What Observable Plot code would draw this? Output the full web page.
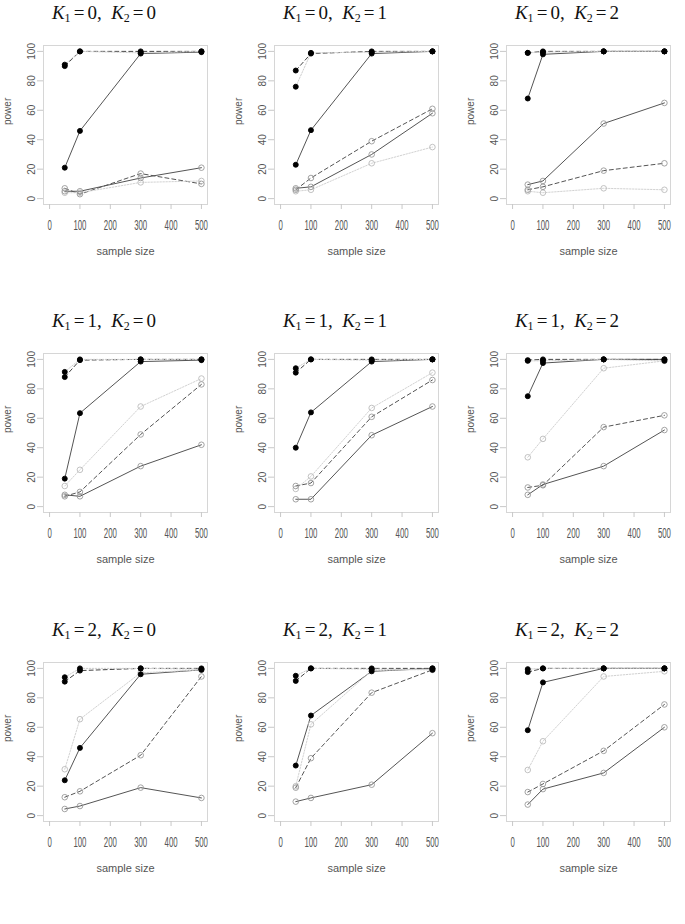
<!DOCTYPE html>
<html><head><meta charset="utf-8">
<script src="https://cdn.jsdelivr.net/npm/d3@7"></script>
<script src="https://cdn.jsdelivr.net/npm/@observablehq/plot@0.6"></script>
<style>
body{margin:0;background:#fff;}
#root{position:relative;width:685px;height:924px;overflow:hidden;background:#fff;font-family:"Liberation Sans",Arial,sans-serif;}
.title{position:absolute;font-family:"Liberation Serif","DejaVu Serif",serif;font-size:19px;line-height:19px;white-space:nowrap;transform:translateX(-50%);color:#111;}
.title i{font-style:italic;}
.title sub{font-size:12px;line-height:0;vertical-align:-3px;}
.title .eq{margin:0 0.16em;}
#root svg{position:absolute;overflow:visible;}
</style></head>
<body><div id="root"></div>
<script>
// ---- data ----
const sampleSize = [50, 100, 300, 500];
const xTicks = [0, 100, 200, 300, 400, 500];
const yTicks = [0, 20, 40, 60, 80, 100];
const k1Values = [0, 0, 0, 1, 1, 1, 2, 2, 2];
const k2Values = [0, 1, 2, 0, 1, 2, 0, 1, 2];
const seriesKeys = ["filledSolid", "filledDashed", "filledDotted", "openSolid", "openDashed", "openDotted"];

// each panel: rows follow seriesKeys, columns follow sampleSize
const power00 = [[21, 46, 98.5, 99.5], [90, 100, 100, 100], [91, 100, 99, 100], [5, 5, 14, 21], [7, 3, 17, 10], [4, 4, 11, 12]];
const power01 = [[23, 46.5, 98.5, 100], [87, 98.5, 100, 100], [76, 99, 99.5, 100], [7, 8, 30, 58], [6, 14, 39, 61], [5, 6, 24, 35]];
const power02 = [[68, 98, 100, 100], [99, 100, 100, 100], [99, 99.5, 100, 100], [9.5, 12, 51, 65], [6, 8, 19, 24], [5, 4, 7, 6]];
const power10 = [[19, 63.5, 98.5, 99.5], [88, 99.5, 100, 100], [91.5, 100, 100, 100], [8, 7, 27.5, 42], [7, 10, 49, 83], [14, 25, 68, 87]];
const power11 = [[40, 64, 98.5, 100], [91, 100, 100, 100], [94, 100, 99.5, 100], [5, 5, 48.5, 68], [14, 16, 61, 86], [12, 20.5, 67, 91]];
const power12 = [[75, 97.5, 100, 100], [99.5, 100, 100, 100], [99, 99, 100, 99], [8, 15, 27.5, 52], [13, 14.5, 54, 62], [33.5, 46, 94, 99]];
const power20 = [[24, 46, 96, 99], [91, 98.5, 100, 100], [94, 100, 100, 99.5], [4.5, 6.5, 19, 12], [12.5, 16.5, 41, 94.5], [31.5, 65.5, 97, 99]];
const power21 = [[34, 68, 98, 100], [91.5, 100, 100, 100], [95, 100, 99.5, 99], [9.5, 12, 21, 56], [19, 39, 83.5, 99], [20, 62, 98.5, 99.5]];
const power22 = [[58, 90.5, 100, 100], [97.5, 100, 100, 100], [99.5, 100, 100, 100], [7.5, 18, 29, 60], [16, 21.5, 44, 75.5], [31, 50.5, 94.5, 98]];
const panelValues = [power00, power01, power02, power10, power11, power12, power20, power21, power22];

// ---- styles ----
const lineColor = ["#555", "#444", "#cfcfcf", "#555", "#555", "#d2d2d2"];
const lineDash = [null, "4,3", "1.5,1.5", null, "4,3", "1.5,1.5"];
const pointFill = ["#000", "#000", "#000", "none", "none", "none"];
const pointStroke = ["#000", "#000", "#000", "#999", "#999", "#bbb"];

const boxLeft = [43, 274, 506];
const boxTop = [45, 353, 662];
const boxW = 164, boxH = 159;
const mL = 46, mR = 6, mT = 6, mB = 62;

const root = document.getElementById("root");

function squeezeTexts(texts, s) {
  texts.forEach(t => {
    const tr = t.getAttribute("transform");
    if (tr) {
      t.setAttribute("transform", tr + ` scale(${s},1)`);
    } else {
      const x = t.getAttribute("x") || 0, y = t.getAttribute("y") || 0;
      t.removeAttribute("x"); t.removeAttribute("y");
      t.setAttribute("transform", `translate(${x},${y}) scale(${s},1)`);
    }
  });
}

panelValues.forEach((vals, p) => {
  const row = Math.floor(p / 3), col = p % 3;
  const data = [];
  seriesKeys.forEach((s, i) => sampleSize.forEach((n, j) => data.push({series: i, n, power: vals[i][j]})));

  const marks = [Plot.frame({stroke: "#d6d6d6"})];
  marks.push(Plot.axisX({ticks: xTicks, tickSize: 5, tickPadding: 11, fontSize: 14, color: "#555", stroke: "#c8c8c8", label: null}));
  marks.push(Plot.axisY({ticks: yTicks, tickSize: 6, tickPadding: 3, tickRotate: -90, fontSize: 10, color: "#555", stroke: "#c8c8c8", label: null}));
  marks.push(Plot.text(["sample size"], {frameAnchor: "bottom", dy: 50, text: d => d, fontSize: 11, fill: "#555", ariaLabel: "xlabel"}));
  marks.push(Plot.text(["power"], {frameAnchor: "left", dx: -36, rotate: -90, text: d => d, fontSize: 10, fill: "#555"}));
  seriesKeys.forEach((s, i) => {
    marks.push(Plot.line(data.filter(d => d.series === i), {x: "n", y: "power", stroke: lineColor[i], strokeWidth: 1, strokeDasharray: lineDash[i]}));
  });
  [5, 4, 3, 2, 1, 0].forEach(i => {
    marks.push(Plot.dot(data.filter(d => d.series === i), {x: "n", y: "power", r: i < 3 ? 2.5 : 2.8, fill: pointFill[i], stroke: pointStroke[i], strokeWidth: 0.9}));
  });

  const svg = Plot.plot({
    width: mL + boxW + mR,
    height: mT + boxH + mB,
    marginLeft: mL, marginRight: mR, marginTop: mT, marginBottom: mB,
    x: {domain: [-20, 520]},
    y: {domain: [-4, 104]},
    style: {background: "transparent", fontFamily: "Liberation Sans, Arial, sans-serif"},
    marks
  });
  squeezeTexts(svg.querySelectorAll('g[aria-label^="x-axis tick label"] text'), 0.56);
  squeezeTexts(svg.querySelectorAll('g[aria-label="xlabel"] text'), 0.8);
  svg.style.left = (boxLeft[col] - mL) + "px";
  svg.style.top = (boxTop[row] - mT) + "px";
  root.appendChild(svg);

  const t = document.createElement("div");
  t.className = "title";
  t.innerHTML = `<i>K</i><sub>1</sub><span class="eq">=</span>${k1Values[p]}, &nbsp;<i>K</i><sub>2</sub><span class="eq">=</span>${k2Values[p]}`;
  t.style.left = (boxLeft[col] + boxW / 2 - 21) + "px";
  t.style.top = (boxTop[row] - 26 - 16) + "px";
  root.appendChild(t);
});
</script>
</body></html>
